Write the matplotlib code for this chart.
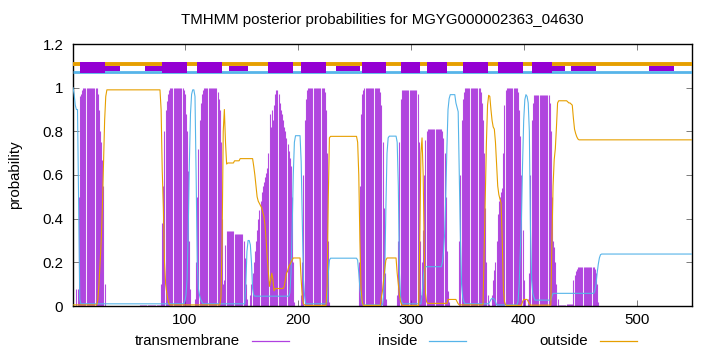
import numpy as np
import matplotlib
matplotlib.use("Agg")
import matplotlib.pyplot as plt
from matplotlib.patches import Rectangle
from matplotlib.lines import Line2D

plt.rcParams['font.family'] = ['Liberation Sans', 'DejaVu Sans']

title = "TMHMM posterior probabilities for MGYG000002363_04630"
seq_len = 549
x_ticks = [100, 200, 300, 400, 500]
y_ticks = [0, 0.2, 0.4, 0.6, 0.8, 1.0, 1.2]
y_tick_labels = ["0", "0.2", "0.4", "0.6", "0.8", "1", "1.2"]
legend_labels = ["transmembrane", "inside", "outside"]

# per-residue posterior probabilities (residue 1..549)
tm_prob = (
    [0.0]*3
    + [0.08, 0.08, 0.5, 0.96, 0.97, 0.99] + [1.0]*13 + [0.97, 0.9, 0.8, 0.75, 0.67, 0.55, 0.1]
    + [0.0]*30 + [0.006]*19
    + [0.1, 0.38, 0.55, 0.8, 0.9, 0.94, 0.97, 0.99] + [1.0]*12 + [0.99, 0.97, 0.88, 0.8, 0.62, 0.3, 0.08]
    + [0.0]*3
    + [0.03, 0.2, 0.5, 0.72, 0.85, 0.93, 0.97, 0.99] + [1.0]*12 + [0.98, 0.95, 0.9, 0.75, 0.4]
    + [0.1, 0.12, 0.28] + [0.345]*7 + [0.33]*8 + [0.3, 0.22, 0.1, 0.03]
    + [0.0]*2
    + [0.05, 0.1, 0.15, 0.2, 0.25, 0.3, 0.35, 0.4, 0.44, 0.48, 0.52, 0.55, 0.57, 0.59, 0.61, 0.63,
       0.7, 0.88, 0.82, 0.9, 0.85, 0.92, 0.97, 0.99, 0.99, 0.97, 0.93, 0.9, 0.88, 0.85, 0.82, 0.8,
       0.77, 0.74, 0.71, 0.68, 0.64, 0.5, 0.2, 0.02]
    + [0.0]*5
    + [0.05, 0.2, 0.6, 0.85, 0.95, 0.99] + [1.0]*15 + [0.98, 0.9, 0.7, 0.3]
    + [0.02]
    + [0.0]*24
    + [0.0, 0.2, 0.55, 0.88, 0.97, 0.99] + [1.0]*14 + [0.98, 0.92, 0.75, 0.45, 0.15, 0.03]
    + [0.0]*9
    + [0.05, 0.3, 0.75, 0.95] + [0.99]*14 + [0.97, 0.75, 0.3, 0.05]
    + [0.2, 0.35, 0.6, 0.76, 0.8] + [0.81]*13 + [0.8, 0.77, 0.7, 0.5, 0.25, 0.07, 0.02]
    + [0.0]*8
    + [0.3, 0.6, 0.85, 0.95, 0.98] + [1.0]*14 + [0.98, 0.93, 0.85, 0.7, 0.45, 0.2, 0.05, 0.01]
    + [0.0]*2
    + [0.05, 0.12, 0.165, 0.2, 0.3, 0.42, 0.48, 0.5, 0.52, 0.54, 0.7, 0.92, 0.99] + [1.0]*10
    + [0.98, 0.9, 0.78, 0.6, 0.35, 0.12, 0.03]
    + [0.0]*2
    + [0.03, 0.15, 0.6, 0.85, 0.93] + [0.968]*14 + [0.93, 0.8, 0.5, 0.3, 0.27, 0.2, 0.1, 0.03]
    + [0.005]*7 + [0.01]*6
    + [0.12, 0.14, 0.16, 0.17] + [0.18]*15 + [0.17, 0.15, 0.1, 0.02]
    + [0.0]*83
)

inside_prob = (
    [1.0, 0.97, 0.92, 0.9, 0.9, 0.45, 0.03]
    + [0.01]*91
    + [0.01, 0.02, 0.05, 0.12, 0.35, 0.65, 0.88, 0.97, 0.99, 0.99, 0.96, 0.6, 0.2, 0.08, 0.05, 0.03, 0.02]
    + [0.01]*38
    + [0.1, 0.25, 0.3, 0.3, 0.28, 0.2, 0.08, 0.05]
    + [0.045]*31
    + [0.06, 0.15, 0.35, 0.6, 0.75] + [0.78]*5 + [0.66, 0.4, 0.12, 0.05]
    + [0.01]*19
    + [0.02, 0.15, 0.21] + [0.219]*24 + [0.21, 0.15, 0.08, 0.04, 0.01]
    + [0.005]*18
    + [0.05, 0.15, 0.45, 0.7, 0.77] + [0.778]*7 + [0.75, 0.55, 0.15, 0.04, 0.02]
    + [0.01]*17
    + [0.05, 0.12, 0.17] + [0.18]*15 + [0.2, 0.25, 0.33, 0.5, 0.72, 0.9, 0.95] + [0.968]*5
    + [0.93, 0.91, 0.89, 0.6, 0.3, 0.1, 0.04, 0.02]
    + [0.01]*22
    + [0.02, 0.03, 0.035, 0.035, 0.03, 0.02]
    + [0.005]*19
    + [0.02, 0.1, 0.25, 0.4, 0.65, 0.85, 0.945, 0.968, 0.96, 0.93, 0.8, 0.35, 0.12, 0.06, 0.04]
    + [0.027]*15
    + [0.045] + [0.058]*37
    + [0.07, 0.1, 0.15, 0.19, 0.22, 0.235]
    + [0.238]*81
)

outside_prob = (
    [0.005]*22
    + [0.03, 0.1, 0.2, 0.3, 0.45, 0.65, 0.85, 0.96, 0.99]
    + [0.99]*47
    + [0.9, 0.62, 0.45, 0.2, 0.1, 0.06, 0.03, 0.01]
    + [0.005]*45
    + [0.04, 0.3, 0.8, 0.9, 0.75, 0.65]
    + [0.655]*6 + [0.665]*5
    + [0.675]*12
    + [0.64, 0.6, 0.55, 0.5, 0.48, 0.47, 0.46, 0.45, 0.43, 0.41, 0.37, 0.3, 0.22, 0.15, 0.09,
       0.12, 0.15, 0.12, 0.07, 0.08]
    + [0.08]*7
    + [0.09, 0.12, 0.15, 0.16, 0.18, 0.19, 0.2, 0.21]
    + [0.22]*7
    + [0.12, 0.04, 0.01, 0.005]
    + [0.003]*19
    + [0.1, 0.5, 0.77] + [0.777]*24 + [0.75, 0.6, 0.3, 0.08, 0.02]
    + [0.003]*16
    + [0.04, 0.07, 0.12, 0.17, 0.21] + [0.22]*9 + [0.15, 0.1, 0.05, 0.02, 0.005]
    + [0.003]*15
    + [0.3, 0.7, 0.77, 0.6, 0.25, 0.06, 0.02]
    + [0.012]*18
    + [0.03]*8 + [0.02, 0.01]
    + [0.005]*22
    + [0.25, 0.5, 0.75, 0.92, 0.965, 0.96, 0.9, 0.85, 0.82, 0.81, 0.75, 0.65, 0.55, 0.51, 0.49,
       0.47, 0.3, 0.08, 0.02, 0.005]
    + [0.003]*14
    + [0.02, 0.03, 0.03, 0.03, 0.03, 0.02, 0.01]
    + [0.004]*19
    + [0.3, 0.55, 0.67, 0.72, 0.82, 0.93] + [0.94]*8 + [0.935, 0.93, 0.93, 0.925, 0.92]
    + [0.86, 0.81, 0.79, 0.775, 0.765]
    + [0.761]*101
)

# predicted segments drawn in the top strip (start, end residue)
tm_segments = [(7, 29), (80, 102), (111, 133), (174, 196), (203, 225), (257, 278),
               (291, 308), (314, 332), (346, 368), (377, 399), (407, 425)]
thin_segments = [(29, 43), (65, 80), (139, 156), (234, 255), (425, 437), (442, 464), (511, 533)]

assert len(tm_prob) == seq_len, len(tm_prob)
assert len(inside_prob) == seq_len, len(inside_prob)
assert len(outside_prob) == seq_len, len(outside_prob)

PURPLE = '#9400D3'
LIGHT_PURPLE = '#B040E0'
BLUE = '#56B4E9'
ORANGE = '#E69F00'
FS = 10.8

residues = np.arange(1, seq_len + 1)

W, H = 720, 352
fig = plt.figure(figsize=(W / 100, H / 100), dpi=100)
L, R, T, B = 73, 692, 44, 306
ax = fig.add_axes([L / W, 1 - B / H, (R - L) / W, (B - T) / H])
ax.set_xlim(1, seq_len)
ax.set_ylim(0, 1.2)

ax.vlines(residues, 0, tm_prob, colors=PURPLE, alpha=0.7, linewidth=0.8, zorder=2)
ax.plot(residues, inside_prob, color=BLUE, lw=0.8, zorder=3)
ax.plot(residues, outside_prob, color=ORANGE, lw=0.8, zorder=3)

# top strip
ax.plot([1, seq_len], [1.11, 1.11], color=ORANGE, lw=2.8, solid_capstyle='butt', zorder=3)
ax.plot([1, seq_len], [1.073, 1.073], color=BLUE, lw=2.0, solid_capstyle='butt', zorder=3)
for s, e in thin_segments:
    ax.add_patch(Rectangle((s, 1.078), e - s, 0.023, facecolor=PURPLE, edgecolor='none', zorder=4))
for s, e in tm_segments:
    ax.add_patch(Rectangle((s, 1.067), e - s, 0.049, facecolor=PURPLE, edgecolor='none', zorder=5))

ax.set_xticks(x_ticks)
ax.set_xticklabels([str(v) for v in x_ticks])
ax.set_yticks(y_ticks)
ax.set_yticklabels(y_tick_labels)
ax.tick_params(direction='in', top=True, right=True, length=4, width=0.6,
               color='#666666', labelsize=FS)
ax.tick_params(axis='x', pad=5)
ax.tick_params(axis='y', pad=7)
for sp in ax.spines.values():
    sp.set_linewidth(1.0)
    sp.set_color('black')

fig.text(382 / W, 1 - 20 / H, title, ha='center', va='center', fontsize=FS)
fig.text(15 / W, 1 - 175 / H, 'probability', rotation=90, ha='center', va='center', fontsize=FS)

ly = 1 - 341 / H
legend_specs = [
    (legend_labels[0], 240, (252, 289), LIGHT_PURPLE),
    (legend_labels[1], 417, (429, 466), BLUE),
    (legend_labels[2], 588, (600, 637), ORANGE),
]
for label, tx, (x0, x1), col in legend_specs:
    fig.text(tx / W, ly, label, ha='right', va='center', fontsize=FS)
    fig.add_artist(Line2D([x0 / W, x1 / W], [ly, ly], color=col, lw=0.9))

fig.savefig('out.png', dpi=100)
